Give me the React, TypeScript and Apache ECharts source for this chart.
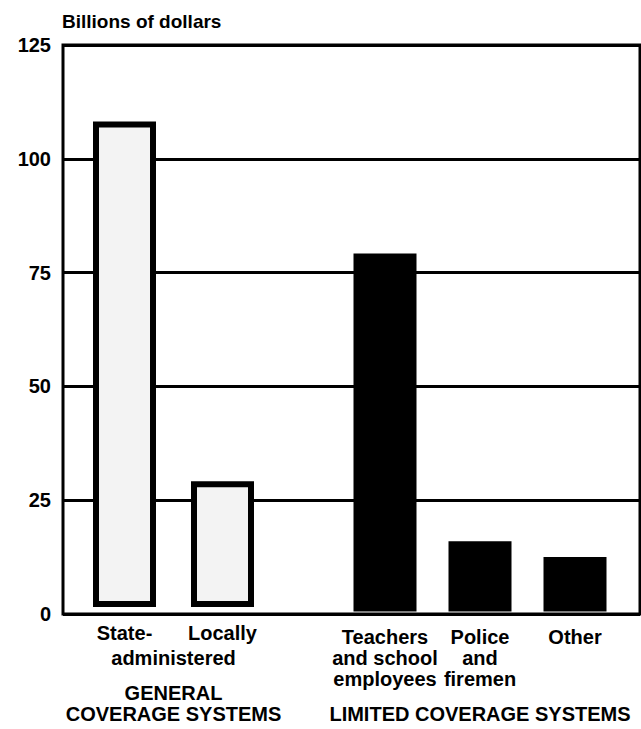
import React, { useEffect, useRef } from "react";
import * as echarts from "echarts";

const generalCategories = ["State-", "Locally"];
const generalValues = [108, 28];
const limitedCategories = ["Teachers\nand school\nemployees", "Police\nand\nfiremen", "Other"];
const limitedValues = [79, 15.5, 12];
const yTicks = { min: 0, max: 125, interval: 25 };
const yTitle = "Billions of dollars";
const generalSharedWord = "administered";
const generalGroup = ["GENERAL", "COVERAGE SYSTEMS"];
const limitedGroup = "LIMITED COVERAGE SYSTEMS";

const FONT = "Liberation Sans";
const FS = 20;

export default function App() {
  const ref = useRef<HTMLDivElement>(null);
  useEffect(() => {
    if (!ref.current) return;
    const chart = echarts.init(ref.current, null, { renderer: "svg" });
    const gridTop = 45;
    const gridBottom = 115;
    const hiddenY = (idx: number) => ({
      gridIndex: idx,
      type: "value" as const,
      min: yTicks.min,
      max: yTicks.max,
      interval: yTicks.interval,
      show: false,
    });
    const catAxisCommon = {
      type: "category" as const,
      axisLine: { show: false },
      axisTick: { show: false },
      splitLine: { show: false },
    };
    const txt = { color: "#000", fontFamily: FONT, fontSize: FS, fontWeight: "bold" as const };
    const labelStyle = {
      ...txt,
      lineHeight: 21,
      margin: 15,
      interval: 0,
    };
    chart.setOption({
      animation: false,
      backgroundColor: "#fff",
      title: {
        text: yTitle,
        left: 62,
        top: 12,
        padding: 0,
        textStyle: { ...txt, fontSize: 19 },
      },
      grid: [
        {
          left: 63,
          right: 1,
          top: gridTop,
          bottom: gridBottom,
          show: true,
          borderColor: "#000",
          borderWidth: 3,
          backgroundColor: "transparent",
        },
        { left: 75.5, width: 196, top: gridTop, bottom: gridBottom },
        { left: 337.5, width: 285, top: gridTop, bottom: gridBottom },
      ],
      xAxis: [
        { gridIndex: 0, type: "value", min: 0, max: 1, show: false },
        {
          ...catAxisCommon,
          gridIndex: 1,
          data: generalCategories,
          axisLabel: labelStyle,
          name: `{a|${generalSharedWord}}\n{b|${generalGroup[0]}}\n{b|${generalGroup[1]}}`,
          nameLocation: "middle",
          nameGap: 21.5,
          nameTextStyle: {
            ...txt,
            rich: {
              a: { ...txt, lineHeight: 49 },
              b: { ...txt, lineHeight: 21 },
            },
          },
        },
        {
          ...catAxisCommon,
          gridIndex: 2,
          data: limitedCategories,
          axisLabel: labelStyle,
          name: limitedGroup,
          nameLocation: "middle",
          nameGap: 91.5,
          nameTextStyle: { ...txt, lineHeight: 21 },
        },
      ],
      yAxis: [
        {
          gridIndex: 0,
          type: "value",
          min: yTicks.min,
          max: yTicks.max,
          interval: yTicks.interval,
          axisLine: { show: false },
          axisTick: { show: false },
          axisLabel: { ...txt, fontSize: 20, margin: 12 },
          splitLine: { show: true, lineStyle: { color: "#000", width: 3 } },
        },
        hiddenY(1),
        hiddenY(2),
      ],
      series: [
        {
          type: "bar",
          xAxisIndex: 1,
          yAxisIndex: 1,
          data: generalValues,
          barWidth: 63,
          itemStyle: { color: "#f3f3f3", borderColor: "#000", borderWidth: 6 },
        },
        {
          type: "bar",
          xAxisIndex: 2,
          yAxisIndex: 2,
          data: limitedValues,
          barWidth: 63,
          itemStyle: { color: "#000", borderColor: "#000", borderWidth: 6 },
        },
      ],
    });
    return () => chart.dispose();
  }, []);
  return (
    <div
      ref={ref}
      style={{ position: "fixed", left: 0, top: 0, width: 641, height: 729 }}
    />
  );
}
